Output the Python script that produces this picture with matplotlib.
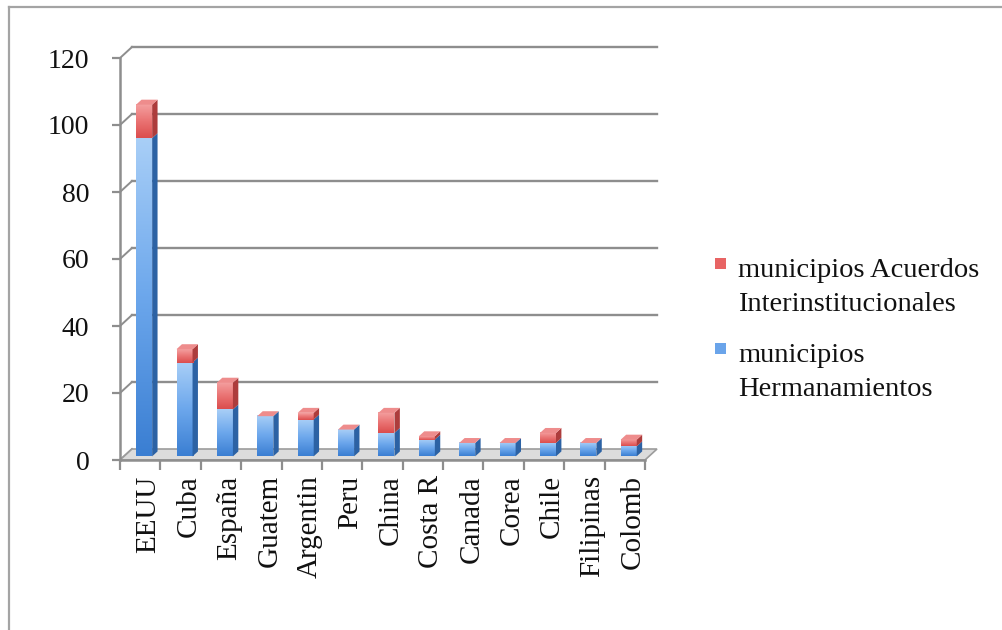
import numpy as np
import matplotlib
matplotlib.use("Agg")
import matplotlib.pyplot as plt
from matplotlib.colors import LinearSegmentedColormap
from matplotlib.patches import Polygon, Rectangle
from matplotlib.lines import Line2D

# ---- data -------------------------------------------------------------
paises = ["EEUU", "Cuba", "España", "Guatem", "Argentin", "Peru", "China",
          "Costa R", "Canada", "Corea", "Chile", "Filipinas", "Colomb"]
hermanamientos = [95, 28, 14, 12, 11, 8, 7, 5, 4, 4, 4, 4, 3]
acuerdos = [10, 4, 8, 0, 2, 0, 6, 1, 0, 0, 3, 0, 2]
serie_acuerdos = "municipios Acuerdos\nInterinstitucionales"
serie_hermanamientos = "municipios\nHermanamientos"
y_ticks = [0, 20, 40, 60, 80, 100, 120]

# ---- figure geometry ----------------------------------------------------
W_PX, H_PX, DPI = 1003, 630, 100
FONT = "Liberation Serif"
plt.rcParams["font.family"] = [FONT, "DejaVu Serif"]

fig = plt.figure(figsize=(W_PX / DPI, H_PX / DPI), dpi=DPI)
fig.patch.set_facecolor("white")

ax_left, ax_right = 120, 645          # front plane, pixels
ax_bottom, ax_top = 460, 58
ax = fig.add_axes([ax_left / W_PX, 1 - ax_bottom / H_PX,
                   (ax_right - ax_left) / W_PX, (ax_bottom - ax_top) / H_PX])
n = len(paises)
ymax = y_ticks[-1]
ax.set_xlim(0, n)
ax.set_ylim(0, ymax)
ax.set_facecolor("none")

# pixel -> data unit conversion for the oblique depth
ux = (ax_right - ax_left) / n
uy = (ax_bottom - ax_top) / ymax
depth_x = 12 / ux
depth_y = 11 / uy

grid_col = "#8e8e8e"

# back wall gridlines with their diagonal connectors
for v in y_ticks:
    if v > 0:
        ax.add_line(Line2D([depth_x, n + depth_x], [v + depth_y, v + depth_y],
                           color=grid_col, lw=1.7, clip_on=False, zorder=1))
    ax.add_line(Line2D([0, depth_x], [v, v + depth_y], color=grid_col,
                       lw=1.4, clip_on=False, zorder=1))

# floor
floor = Polygon([(0, 0), (n, 0), (n + depth_x, depth_y), (depth_x, depth_y)],
                closed=True, facecolor="#dcdcdc", edgecolor="#9c9c9c",
                lw=1.2, clip_on=False, zorder=1.5)
ax.add_patch(floor)

# ---- bars -------------------------------------------------------------
blue_cmap = LinearSegmentedColormap.from_list("b", ["#3a7ed2", "#6ca7ec", "#a9cff7"])
red_cmap = LinearSegmentedColormap.from_list("r", ["#db4d4d", "#ea7373", "#f4a0a0"])
blue_side, blue_top = "#2c62a4", "#8fbcef"
red_side, red_top = "#ad3c3c", "#ee8c8c"

bar_w = 16 / ux
a0, a1 = 0.33, 0.78           # front / back depth fractions of the bars
fx, fy = a0 * depth_x, a0 * depth_y
sx, sy = (a1 - a0) * depth_x, (a1 - a0) * depth_y
grad = np.linspace(0, 1, 256)[:, None]


def draw_box(x0, y0, y1, cmap, side_col, top_col, z, top_face):
    x1 = x0 + bar_w
    if y1 > y0:
        ax.imshow(grad, cmap=cmap, origin="lower", aspect="auto",
                  extent=[x0, x1, y0, y1], zorder=z, interpolation="bilinear",
                  clip_on=False)
        side = Polygon([(x1, y0), (x1, y1), (x1 + sx, y1 + sy), (x1 + sx, y0 + sy)],
                       closed=True, facecolor=side_col, edgecolor="none",
                       zorder=z, clip_on=False)
        ax.add_patch(side)
    if top_face:
        top = Polygon([(x0, y1), (x1, y1), (x1 + sx, y1 + sy), (x0 + sx, y1 + sy)],
                      closed=True, facecolor=top_col, edgecolor="none",
                      zorder=z + 0.01, clip_on=False)
        ax.add_patch(top)


for i, (h, r) in enumerate(zip(hermanamientos, acuerdos)):
    x0 = i + 0.5 - bar_w / 2 + fx
    base = fy
    z = 3 + i * 0.1
    draw_box(x0, base, base + h, blue_cmap, blue_side, blue_top, z, False)
    draw_box(x0, base + h, base + h + r, red_cmap, red_side, red_top, z + 0.02, True)

ax.set_xlim(0, n)
ax.set_ylim(0, ymax)

# ---- axes -------------------------------------------------------------
for s in ["top", "right"]:
    ax.spines[s].set_visible(False)
for s in ["left", "bottom"]:
    ax.spines[s].set_color(grid_col)
    ax.spines[s].set_linewidth(1.8)
    ax.spines[s].set_zorder(2)

ax.set_yticks(y_ticks)
ax.set_yticklabels([str(v) for v in y_ticks])
ax.tick_params(axis="y", length=6, width=1.6, color=grid_col, pad=16,
               labelsize=20, labelcolor="#111111")

lab_shift = 8 / ux
ax.set_xticks(np.arange(n) + 0.5 + lab_shift)
ax.set_xticklabels(paises, rotation=90)
ax.set_xticks(np.arange(n + 1), minor=True)
ax.tick_params(axis="x", which="major", length=0, pad=11, labelsize=21,
               labelcolor="#111111")
ax.tick_params(axis="x", which="minor", length=7, width=1.6, color=grid_col)

# ---- legend -------------------------------------------------------------
def fig_xy(px, py):
    return px / W_PX, 1 - py / H_PX


leg_entries = [(serie_acuerdos, "#e86464", 258), (serie_hermanamientos, "#6aa4ea", 343)]
for label, col, py in leg_entries:
    x, y = fig_xy(715, py + 11)
    fig.patches.append(Rectangle((x, y), 11 / W_PX, 11 / H_PX, transform=fig.transFigure,
                                 facecolor=col, edgecolor="none"))
    for k, line in enumerate(label.split("\n")):
        tx, ty = fig_xy(738, py + 19 + k * 34)
        fig.text(tx, ty, line, fontsize=20.5, color="#111111", va="baseline",
                 ha="left")

# ---- outer frame ----------------------------------------------------------
fx0, fy0 = fig_xy(9, 7)
fig.add_artist(Line2D([fx0, fx0], [fy0, 0], transform=fig.transFigure,
                      color="#a4a4a4", lw=1.6))
fig.add_artist(Line2D([fx0, 1], [fy0, fy0], transform=fig.transFigure,
                      color="#a4a4a4", lw=1.6))

fig.savefig("out.png", dpi=DPI)
